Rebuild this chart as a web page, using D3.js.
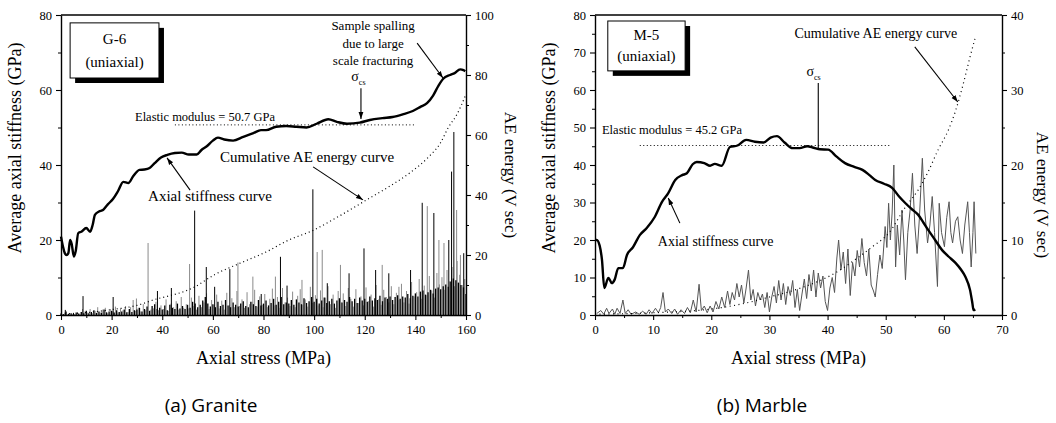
<!DOCTYPE html>
<html>
<head>
<meta charset="utf-8">
<script src="https://cdn.jsdelivr.net/npm/d3@7"></script>
<style>
  body { margin: 0; background: #fff; }
  svg { display: block; }
  svg text { font-family: "Liberation Serif", "Times New Roman", serif; }
  svg text.cap { font-family: "Open Sans", "Noto Sans", sans-serif; }
</style>
</head>
<body>
<div id="chart"></div>
<script>
// ---- granite (G-6) ----
const graniteStiffness = [[0,20.9],[0.8,18.2],[1.5,16.5],[2.2,16],[2.9,16.5],[3.6,20],[4.2,19],[5.1,15.6],[5.8,17],[6.8,21.8],[8,22.2],[10,23.2],[11.5,22.2],[12.5,24],[13.4,26.7],[15,27.6],[16.6,28],[18.5,29.5],[20.6,31],[22.5,33],[24.6,35.5],[26.6,35.2],[28.5,37],[31,38.7],[33,38.8],[35,39.2],[37,40.5],[39.5,42],[42,42.7],[45,43.2],[47.7,43.3],[50.5,42.8],[53.6,42.8],[55.5,44],[57.6,45],[60,46.5],[62,47.3],[64.5,46.8],[68,46.5],[72,47.5],[76,48.5],[79,49.3],[81,49.3],[85,50.2],[89,50.4],[93,50.2],[97,50],[101,51],[105.6,52.2],[109,51.5],[113,51],[118,51.3],[122,52],[127,52.5],[131,52.8],[135,53.5],[139,54.4],[142,55.5],[144.6,56.5],[147,58.5],[149,61],[151,63],[153.7,64],[155.5,64.5],[157.7,65.5],[159,65.3],[159.7,65]];
const graniteCumAE = [[0,0.3],[10,0.8],[20,1.8],[30,3.2],[38,5.4],[42,6.2],[52,9],[61,13.6],[70,17],[81,21],[90,25],[99,28],[110,33],[121,38.5],[130,43],[138,47.5],[145,52.5],[150,57.5],[153,62.5],[156.5,67],[159.7,73]];
// hit energy at every 1 MPa (black) and at half steps (grey), near the baseline
const graniteGrassBlack = [0.5,0.3,1.2,0.4,0.6,0.3,0.8,0.5,1.0,0.6, 1.4,0.6,1.0,1.6,0.7,1.2,0.8,1.8,0.9,1.2, 1.4,0.8,1.6,1.0,1.2,1.8,0.9,2.0,1.0,1.6, 1.8,2.4,1.2,2.0,2.8,1.4,3.0,3.6,2.0,2.4, 1.8,3.2,1.6,3.4,2.4,2.0,3.8,2.2,3.0,2.0, 3.4,2.4,4.4,3.8,2.6,3.4,4.8,6.0,3.8,2.8, 3.6,2.6,4.4,3.0,3.4,5.0,3.2,2.6,4.2,3.4, 2.8,3.8,4.6,3.0,2.6,4.4,3.6,3.0,5.0,3.2, 3.8,4.8,3.2,4.0,5.4,3.4,4.4,6.0,3.6,4.2, 3.8,5.0,3.4,5.2,4.2,3.6,5.6,4.0,4.6,6.0, 4.4,5.4,3.8,4.8,5.8,4.0,4.6,5.4,3.8,4.8, 5.6,4.2,5.0,4.4,6.0,4.6,5.4,4.0,5.8,4.8, 5.4,4.4,6.2,4.8,5.6,5.0,6.4,4.6,5.8,5.4, 6.2,5.0,6.0,6.6,5.4,6.2,5.8,7.0,5.6,6.4, 7.2,6.2,7.8,8.2,6.8,7.6,8.4,7.2,8.8,9.2, 8.6,9.6,10.2,9.4,11.2,12.2,11.6,10.8,10.0,9.2, 7.0];
const graniteGrassGrey = [0.3,0.8,0.2,0.5,0.4,0.3,1.0,0.3,2.0,1.2, 0.8,2.0,0.6,1.4,2.6,0.8,1.8,2.4,0.6,2.0, 1.2,2.8,0.8,2.2,1.6,3.0,1.0,2.6,5.0,1.4, 2.4,1.2,3.6,1.6,4.8,1.8,2.2,4.4,1.6,3.2, 2.0,5.2,1.4,3.8,2.6,4.6,1.8,6.0,2.4,3.6, 2.2,5.8,3.0,1.8,6.4,2.6,4.2,7.2,2.0,5.0, 3.4,6.8,2.2,4.8,1.8,7.4,3.2,5.6,2.6,8.0, 3.0,5.2,2.4,7.6,3.6,4.4,8.4,2.8,6.2,3.4, 7.0,2.6,5.4,8.8,3.2,6.0,2.4,9.0,4.2,5.8, 3.0,7.8,2.6,6.4,8.6,3.4,5.2,2.8,9.4,4.0, 6.6,3.2,8.2,2.6,5.8,9.6,3.6,6.8,2.4,8.0, 4.4,7.2,3.0,9.0,5.4,2.8,8.6,4.0,6.2,3.2, 9.2,4.6,6.8,2.8,10.0,5.2,3.4,8.4,6.0,4.2, 9.6,3.6,7.4,5.0,10.4,4.2,8.0,3.8,11.0,6.2, 7.6,12.0,5.4,9.8,6.6,13.0,8.2,5.8,14.0,10.2, 12.6,8.4,15.0,11.2,16.0,9.6,18.0,13.4,10.0,12.0];
const graniteSpikesBlack = [[1.7,1.7],[8.7,6.3],[20.6,6],[38.1,8],[43.6,9],[52.8,34.8],[57.4,16],[60.7,9.4],[66.7,15.3],[79.1,7],[86.7,19.4],[89.3,9.8],[99.5,41.9],[105.2,10.6],[113.8,13.9],[119.7,22.2],[124.3,15],[129.5,13.9],[138.1,15],[142.7,37.4],[147.3,34],[153.2,25],[154.3,47.8],[155.2,61],[159.1,20.6]];
const graniteSpikesGrey = [[29.8,5.5],[34.4,24],[50.8,17],[69.9,17.5],[75.8,12.8],[84.7,12.8],[95.2,11.7],[101.2,21],[103.2,21.7],[110.4,16.7],[126.9,16.7],[133.5,9.4],[144.7,36.3],[149.3,25],[151.3,24],[156.3,35],[157.8,20]];

// ---- marble (M-5) ----
const marbleStiffness = [[0,20],[0.3,20],[0.8,18.5],[1.2,14.7],[1.6,7.2],[2.3,9.9],[2.9,8.5],[3.4,9.5],[4,12.5],[4.8,12.5],[5.5,16],[6.5,18],[7.7,21.3],[8.9,23.2],[10.3,26.2],[11.5,30.1],[12.6,32.5],[13.8,36],[15,37.3],[15.8,37.8],[16.8,40.2],[17.5,40.8],[18.8,40.5],[19.8,39.8],[20.6,40.3],[21.8,39.8],[23.2,44.8],[24.5,45.2],[26,46.7],[27.5,46.2],[29,46],[30.2,47.3],[31.3,47.7],[32.6,46],[34,44.5],[35.2,44.5],[36.5,45],[37.6,44.6],[38.7,44.2],[40.1,44.1],[41.5,42.3],[43,40.5],[44.6,39.5],[46,38.7],[47.2,37.3],[48.2,36],[49.7,35],[51.1,33.9],[52.3,31.6],[53.4,29.8],[54.5,28.2],[55.6,26.7],[56.5,24.6],[57.3,22.7],[58.5,20],[59.7,17.3],[60.8,15.6],[62,13.9],[63,12],[63.7,10.2],[64.5,6.7],[64.9,3.2],[65.1,1.3],[65.4,1.5]];
const marbleCumAE = [[0,0.1],[10,0.3],[20,0.8],[26,1.6],[30,2.4],[35,3.5],[41.3,5.6],[45.3,7.7],[47.7,9.1],[50.5,10.9],[53.4,14.4],[55.6,16.7],[57.3,19.1],[59,22],[60.8,24.7],[62,27.2],[63.3,30.7],[64.5,34.4],[65.4,37]];
const marbleAE = [[0.3,0.2],[1,0.6],[1.5,0.1],[2,0.9],[2.4,0.2],[3,0.8],[3.4,0.1],[3.8,0.9],[4.3,0.2],[4.8,2.0],[5.2,0.2],[5.7,0.7],[6.2,0.1],[7,0.4],[7.6,0.1],[8.2,0.5],[8.8,0.1],[9.3,0.7],[9.8,0.2],[10.4,0.9],[10.9,0.3],[11.3,1.0],[11.7,3.0],[12.1,0.4],[12.6,0.8],[13.2,0.2],[13.7,0.8],[14.2,0.1],[14.8,0.7],[15.4,0.2],[15.9,1.0],[16.4,0.3],[16.9,2.0],[17.4,0.4],[17.9,4.1],[18.3,0.6],[18.8,1.2],[19.3,0.3],[19.8,1.2],[20.3,0.4],[20.8,1.8],[21.3,0.8],[21.8,2.4],[22.3,1.0],[22.8,3.2],[23.2,1.4],[23.6,3.0],[24.0,2.0],[24.4,4.2],[24.8,2.4],[25.2,4.0],[25.6,1.6],[26.0,3.6],[26.4,6.0],[26.8,2.0],[27.2,3.4],[27.6,1.2],[28.0,3.0],[28.4,2.0],[28.8,2.8],[29.2,1.0],[29.6,3.0],[30.0,0.4],[30.4,2.4],[30.8,3.8],[31.2,1.6],[31.6,4.6],[32.0,2.0],[32.4,4.2],[32.8,1.4],[33.2,3.8],[33.6,2.6],[34.0,4.6],[34.4,1.0],[34.8,3.4],[35.2,0.6],[35.6,2.8],[36.0,4.8],[36.4,2.2],[36.8,5.4],[37.2,3.2],[37.6,6.0],[38.0,2.4],[38.4,5.6],[38.8,3.6],[39.2,5.2],[39.6,1.8],[40.0,0.6],[40.4,3.6],[40.8,5.0],[41.2,3.0],[41.6,7.6],[41.9,10.0],[42.3,6.0],[42.7,8.4],[43.1,4.2],[43.5,8.8],[43.9,2.6],[44.3,7.0],[44.7,5.2],[45.1,8.6],[45.5,6.4],[45.9,10.2],[46.3,7.0],[46.7,5.2],[47.1,8.8],[47.5,4.0],[47.9,3.2],[48.2,2.4],[48.6,5.4],[49.0,8.0],[49.4,6.2],[49.9,11.8],[50.2,9.0],[50.5,14.9],[50.8,10.0],[51.1,13.6],[51.4,20.0],[51.7,6.4],[52.0,12.0],[52.4,8.0],[52.8,14.0],[53.1,10.0],[53.4,4.7],[53.8,11.0],[54.2,14.0],[54.6,18.9],[55.0,12.0],[55.4,8.2],[55.8,13.0],[56.3,20.9],[56.7,14.0],[57.2,9.6],[57.6,12.0],[58.0,15.8],[58.4,11.0],[58.9,3.8],[59.2,14.9],[59.6,11.0],[60.1,9.1],[60.5,13.0],[60.9,15.1],[61.2,11.0],[61.5,9.6],[62.0,12.5],[62.4,13.1],[62.8,10.0],[63.2,8.2],[63.6,12.0],[64.1,15.1],[64.4,11.0],[64.7,6.4],[65.0,11.0],[65.2,15.1],[65.5,8.2]];

const width = 1056, height = 423;

const svg = d3.select("#chart").append("svg")
    .attr("width", width)
    .attr("height", height)
    .attr("viewBox", `0 0 ${width} ${height}`);

svg.append("defs").append("marker")
    .attr("id", "arrow")
    .attr("viewBox", "0 0 10 10")
    .attr("refX", 10).attr("refY", 5)
    .attr("markerWidth", 7).attr("markerHeight", 7)
    .attr("markerUnits", "userSpaceOnUse")
    .attr("orient", "auto")
    .append("path").attr("d", "M0,1.5L10,5L0,8.5z").attr("fill", "#000");

function panel(p) {
    const g = svg.append("g");
    const x = d3.scaleLinear().domain([0, p.xMax]).range([p.x0, p.x1]);
    const y = d3.scaleLinear().domain([0, 80]).range([315, 15]);
    const yr = d3.scaleLinear().domain([0, p.rMax]).range([315, 15]);
    return { g, x, y, yr, p };
}

function axes(P) {
    const { g, x, y, yr, p } = P;
    const styleAxis = s => {
        s.attr("font-size", 12.5).attr("font-family", null);
        s.select(".domain").attr("stroke-width", 1.4);
        s.selectAll(".tick line").attr("stroke-width", 1.1);
    };
    const minor = (major, step) => d3.range(0, major[major.length - 1] + 0.001, step).filter(v => !major.includes(v));

    g.append("g").attr("transform", "translate(0,315)")
        .call(d3.axisBottom(x).tickValues(p.xTicks).tickSize(5).tickSizeOuter(0).tickPadding(5)).call(styleAxis);
    g.append("g").attr("transform", "translate(0,315)")
        .call(d3.axisBottom(x).tickValues(minor(p.xTicks, p.xMinor)).tickSize(3).tickSizeOuter(0).tickFormat(""))
        .call(s => s.select(".domain").remove());

    g.append("g").attr("transform", `translate(${p.x0},0)`)
        .call(d3.axisLeft(y).tickValues(p.yTicks).tickSize(5).tickSizeOuter(0).tickPadding(4)).call(styleAxis);
    g.append("g").attr("transform", `translate(${p.x0},0)`)
        .call(d3.axisLeft(y).tickValues(minor(p.yTicks, p.yMinor)).tickSize(3).tickSizeOuter(0).tickFormat(""))
        .call(s => s.select(".domain").remove());

    g.append("g").attr("transform", `translate(${p.x1},0)`)
        .call(d3.axisRight(yr).tickValues(p.rTicks).tickSize(5).tickSizeOuter(0).tickPadding(4)).call(styleAxis);
    g.append("g").attr("transform", `translate(${p.x1},0)`)
        .call(d3.axisRight(yr).tickValues(minor(p.rTicks, p.rMinor)).tickSize(3).tickSizeOuter(0).tickFormat(""))
        .call(s => s.select(".domain").remove());

    g.append("line").attr("x1", p.x0).attr("x2", p.x1).attr("y1", y(80)).attr("y2", y(80))
        .attr("stroke", "#000").attr("stroke-width", 1.4);

    g.append("text").attr("transform", `translate(${p.yTitleX},${p.yTitleY}) rotate(-90)`)
        .attr("text-anchor", "middle").attr("font-size", 18).text("Average axial stiffness (GPa)");
    g.append("text").attr("transform", `translate(${p.rTitleX},${p.rTitleY}) rotate(90)`)
        .attr("text-anchor", "middle").attr("font-size", 17).text("AE energy (V sec)");
    g.append("text").attr("x", (p.x0 + p.x1) / 2).attr("y", 364)
        .attr("text-anchor", "middle").attr("font-size", 18).text("Axial stress (MPa)");
    g.append("text").attr("class", "cap").attr("x", p.captionX).attr("y", 412)
        .attr("text-anchor", "middle").attr("font-size", 19).text(p.caption);
}

function curve(P, data, scaleY, opts) {
    const line = d3.line().x(d => P.x(d[0])).y(d => scaleY(d[1])).curve(opts.curve || d3.curveLinear);
    P.g.append("path").datum(data).attr("d", line).attr("fill", "none")
        .attr("stroke", opts.color || "#000").attr("stroke-width", opts.width)
        .attr("stroke-dasharray", opts.dash || null).attr("stroke-linejoin", "round");
}

function spikes(P, data, color, w) {
    P.g.append("g").selectAll("line").data(data).join("line")
        .attr("x1", d => P.x(d[0])).attr("x2", d => P.x(d[0]))
        .attr("y1", P.yr(0)).attr("y2", d => P.yr(d[1]))
        .attr("stroke", color).attr("stroke-width", w);
}

function box(P, s0, s1, g0, g1, label) {
    const { g, x, y } = P;
    g.append("rect").attr("x", x(s0) + 5).attr("y", y(g0) + 5)
        .attr("width", x(s1) - x(s0)).attr("height", y(g1) - y(g0)).attr("fill", "#000");
    g.append("rect").attr("x", x(s0)).attr("y", y(g0))
        .attr("width", x(s1) - x(s0)).attr("height", y(g1) - y(g0))
        .attr("fill", "#fff").attr("stroke", "#000").attr("stroke-width", 1);
    const cx = (x(s0) + x(s1)) / 2, top = y(g0), h = y(g1) - y(g0);
    g.append("text").attr("x", cx).attr("y", top + h * 0.38).attr("text-anchor", "middle").attr("font-size", 15).text(label);
    g.append("text").attr("x", cx).attr("y", top + h * 0.8).attr("text-anchor", "middle").attr("font-size", 15).text("(uniaxial)");
}

function label(P, s, gv, txt, size, anchor) {
    return P.g.append("text").attr("x", P.x(s)).attr("y", P.y(gv))
        .attr("text-anchor", anchor || "start").attr("font-size", size).text(txt);
}

function arrow(P, s0, g0, s1, g1, head) {
    P.g.append("line").attr("x1", P.x(s0)).attr("y1", P.y(g0)).attr("x2", P.x(s1)).attr("y2", P.y(g1))
        .attr("stroke", "#000").attr("stroke-width", 1.1)
        .attr("marker-end", head === false ? null : "url(#arrow)");
}

function sigma(P, s, gv) {
    const t = P.g.append("text").attr("x", P.x(s)).attr("y", P.y(gv)).attr("font-size", 14).attr("text-anchor", "middle");
    t.append("tspan").text("\u03c3");
    t.append("tspan").attr("dy", 4).attr("font-size", 8).text("cs");
}

// ---------- panel (a) Granite ----------
const A = panel({ x0: 61, x1: 466, xMax: 160, rMax: 100 });
Object.assign(A.p, {
    xTicks: d3.range(0, 161, 20), xMinor: 10,
    yTicks: [0, 20, 40, 60, 80], yMinor: 10, rTicks: [0, 20, 40, 60, 80, 100], rMinor: 10,
    yTitleX: 21, yTitleY: 148, rTitleX: 505, rTitleY: 175,
    caption: "(a)  Granite", captionX: 211
});
spikes(A, graniteGrassGrey.map((v, i) => [i + 0.5, v]), "#8a8a8a", 1);
spikes(A, graniteSpikesGrey, "#8a8a8a", 1);
spikes(A, graniteGrassBlack.map((v, i) => [i, v]), "#000", 1.3);
spikes(A, graniteSpikesBlack, "#000", 1);
curve(A, graniteCumAE, A.yr, { width: 1.2, dash: "1,3", curve: d3.curveMonotoneX });
curve(A, [[45, 50.7], [140, 50.7]], A.y, { width: 1, dash: "1,2.5" });
curve(A, graniteStiffness, A.y, { width: 2.4, curve: d3.curveMonotoneX });
axes(A);
box(A, 3.6, 38.7, 77.9, 63.2, "G-6");
label(A, 56.9, 51.7, "Elastic modulus = 50.7 GPa", 12.5, "middle");
label(A, 97.2, 40.8, "Cumulative AE energy curve", 15, "middle");
label(A, 34.4, 30.4, "Axial stiffness curve", 15);
[["Sample spalling", 76.0], ["due to large", 71.3], ["scale fracturing", 66.6]]
    .forEach(d => label(A, 123.3, d[1], d[0], 13, "middle"));
sigma(A, 117.5, 62.5);
arrow(A, 118.5, 60.5, 118.5, 52.3);
arrow(A, 140.7, 72.5, 150.9, 63.2);
arrow(A, 99.6, 39.5, 119.3, 30.7);
arrow(A, 51, 33.3, 41.9, 41.9);

// ---------- panel (b) Marble ----------
const B = panel({ x0: 595, x1: 1002, xMax: 70, rMax: 40 });
Object.assign(B.p, {
    xTicks: d3.range(0, 71, 10), xMinor: 5,
    yTicks: d3.range(0, 81, 10), yMinor: 5, rTicks: [0, 10, 20, 30, 40], rMinor: 5,
    yTitleX: 555, yTitleY: 148, rTitleX: 1037, rTitleY: 195,
    caption: "(b)  Marble", captionX: 762
});
curve(B, marbleAE, B.yr, { width: 1, color: "#555" });
curve(B, marbleCumAE, B.yr, { width: 1.2, dash: "1,3.5", curve: d3.curveMonotoneX });
curve(B, [[7.7, 45.2], [50.8, 45.2]], B.y, { width: 1, dash: "1,2.5" });
curve(B, marbleStiffness, B.y, { width: 2.4, curve: d3.curveMonotoneX });
axes(B);
box(B, 2.2, 15.5, 78.4, 65.1, "M-5");
label(B, 1.2, 48.3, "Elastic modulus = 45.2 GPa", 12.5);
label(B, 48.3, 73.9, "Cumulative AE energy curve", 14, "middle");
label(B, 10.8, 18.4, "Axial stiffness curve", 14);
sigma(B, 37.6, 63.8);
arrow(B, 38.4, 61.9, 38.4, 44.3, false);
arrow(B, 55, 71.5, 62.4, 56.8);
arrow(B, 14.6, 24.5, 12.6, 31.2);
</script>
</body>
</html>
